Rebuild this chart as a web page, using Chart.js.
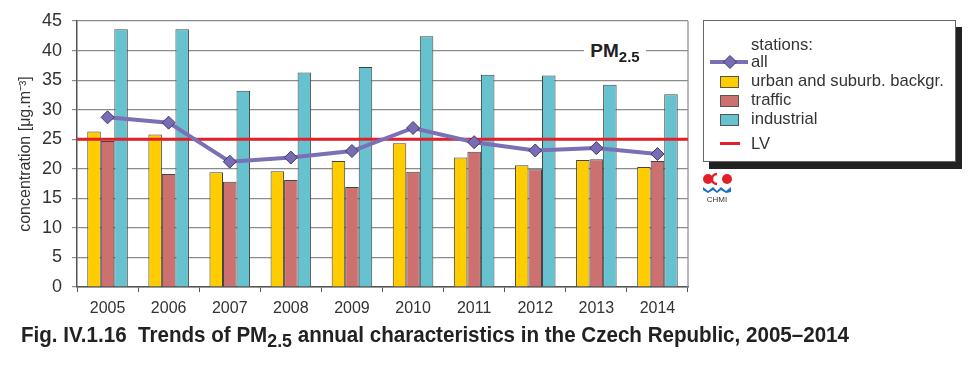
<!DOCTYPE html>
<html><head><meta charset="utf-8">
<script src="https://cdn.jsdelivr.net/npm/chart.js@4"></script>
<style>
html,body{margin:0;padding:0;background:#fff;}
#wrap{position:relative;width:976px;height:365px;overflow:hidden;font-family:"Liberation Sans",Arial,sans-serif;color:#333;}
#c{position:absolute;left:0;top:0;}
#pm{position:absolute;left:584px;top:39px;width:62px;height:24px;background:#fff;font-weight:bold;font-size:19px;line-height:24px;color:#222;text-align:center;}
#pm span{font-size:15px;position:relative;top:5px;}
#legend{position:absolute;left:703px;top:20px;width:251px;height:140px;border:1px solid #666;background:#fff;box-shadow:6px 7px 0 0 #222;}
.lt{position:absolute;left:751px;height:20px;line-height:20px;font-size:16.6px;color:#333;white-space:nowrap;}
.sw{position:absolute;left:720px;width:17px;height:10px;border:1px solid #555;}
#caption{position:absolute;left:21px;top:324px;font-family:"Liberation Sans Narrow","Liberation Sans",Arial,sans-serif;font-weight:bold;font-size:22px;line-height:22px;color:#222;white-space:nowrap;transform-origin:0 0;}
#caption span{font-size:19px;position:relative;top:5px;}
#logo{position:absolute;left:700px;top:170px;}
</style></head><body>
<div id="wrap">
<canvas id="c" width="976" height="365"></canvas>
<div id="pm">PM<span>2.5</span></div>
<div id="legend"></div>
<div class="lt" style="top:34.5px">stations:</div>
<svg style="position:absolute;left:708px;top:54px" width="42" height="16">
  <line x1="2" y1="8" x2="40" y2="8" stroke="#7a70b5" stroke-width="4"/>
  <polygon points="22,1.5 28.5,8 22,14.5 15.5,8" fill="#7a6cb4" stroke="#3d3a6a" stroke-width="1"/>
</svg>
<div class="lt" style="top:51.5px">all</div>
<div class="sw" style="top:76px;background:#FFCC00"></div>
<div class="lt" style="top:70.5px">urban and suburb. backgr.</div>
<div class="sw" style="top:95px;background:#CC7070"></div>
<div class="lt" style="top:89.5px">traffic</div>
<div class="sw" style="top:114px;background:#66C2CE"></div>
<div class="lt" style="top:109px">industrial</div>
<div style="position:absolute;left:720px;top:142px;width:20px;height:3px;background:#E3202A"></div>
<div class="lt" style="top:133.5px">LV</div>
<svg id="logo" width="36" height="36">
  <circle cx="8" cy="9" r="5" fill="#E3202A"/>
  <path d="M17,4 A5,5 0 0,0 17,14" fill="none" stroke="#E3202A" stroke-width="2.5"/>
  <circle cx="27" cy="9" r="5" fill="#E3202A"/>
  <path d="M3,17 L8,21 L13,17 L17,21 L21,17 L26,21 L31,17 L31,22 L26,23 L21,20 L17,23 L13,20 L8,23 L3,20 Z" fill="#1a6fbf"/>
  <text x="17" y="32" font-size="8" text-anchor="middle" fill="#333" font-family="Liberation Sans, Arial">CHMI</text>
</svg>
<div id="caption">Fig. IV.1.16&nbsp; Trends of PM<span>2.5</span> annual characteristics in the Czech Republic, 2005–2014</div>
</div>
<script>
const years = ['2005','2006','2007','2008','2009','2010','2011','2012','2013','2014'];
const urban = [26.3,25.8,19.4,19.6,21.3,24.3,21.9,20.6,21.5,20.3];
const traffic = [24.7,19.1,17.8,18.1,16.9,19.5,22.9,19.9,21.6,21.3];
const industrial = [43.6,43.6,33.2,36.3,37.2,42.4,35.9,35.8,34.2,32.6];
const allStations = [28.7,27.8,21.2,21.9,23.0,26.9,24.5,23.1,23.5,22.5];
const LV = 25;
const yMin = 0, yMax = 45, yStep = 5;

const cap = document.getElementById('caption');
const cw = cap.getBoundingClientRect().width;
cap.style.transform = 'scaleX(' + (828 / cw) + ')';

Chart.defaults.font.family = '"Liberation Sans", Arial, sans-serif';

const frameAndLV = {
  id: 'frameAndLV',
  beforeDatasetsDraw(chart) {
    const {ctx, chartArea: a} = chart;
    ctx.save();
    ctx.strokeStyle = '#8c8c8c';
    ctx.lineWidth = 1.2;
    ctx.beginPath();
    ctx.moveTo(a.right, a.top);
    ctx.lineTo(a.right, a.bottom);
    ctx.stroke();
    ctx.restore();
  },
  beforeDatasetDraw(chart, args) {
    if (args.meta.type !== 'line') return;
    const {ctx, chartArea: a, scales} = chart;
    const y = scales.y.getPixelForValue(LV);
    ctx.save();
    ctx.strokeStyle = '#E3202A';
    ctx.lineWidth = 3;
    ctx.beginPath();
    ctx.moveTo(a.left, y);
    ctx.lineTo(a.right, y);
    ctx.stroke();
    ctx.restore();
  }
};

const barCommon = {type:'bar', borderColor:'#444', borderWidth:1, categoryPercentage:0.664, barPercentage:1, order:3};

new Chart(document.getElementById('c'), {
  data: {
    labels: years,
    datasets: [
      {...barCommon, label:'urban and suburb. backgr.', data:urban, backgroundColor:'#FFCC00'},
      {...barCommon, label:'traffic', data:traffic, backgroundColor:'#CC7070'},
      {...barCommon, label:'industrial', data:industrial, backgroundColor:'#66C2CE'},
      {type:'line', label:'all', data:allStations, borderColor:'#7a70b5', borderWidth:4, pointStyle:'rectRot', pointRadius:6.5, pointBackgroundColor:'#7a6cb4', pointBorderColor:'#3d3a6a', pointBorderWidth:1, tension:0, order:1}
    ]
  },
  options: {
    responsive:false, animation:false, devicePixelRatio:1,
    layout:{padding:{top:21, right:288, bottom:38, left:0}},
    plugins:{legend:{display:false}, tooltip:{enabled:false}},
    scales:{
      x:{type:'category', offset:true,
        grid:{offset:true, drawOnChartArea:false, drawTicks:true, tickLength:5, color:'#555', lineWidth:1},
        border:{display:true, color:'#555', width:1.5},
        ticks:{color:'#333', font:{size:16}, padding:7, maxRotation:0},
        afterFit(s){ s.height = 40; }
      },
      y:{min:yMin, max:yMax,
        ticks:{stepSize:yStep, color:'#333', font:{size:18}, padding:10},
        grid:{color:'#8c8c8c', lineWidth:1.2, tickLength:5, drawTicks:true},
        border:{display:true, color:'#555', width:1.5},
        title:{display:true, text:'concentration [μg.m⁻³]', color:'#333', font:{size:16}, padding:{top:16, bottom:0}},
        afterFit(s){ s.width = 77; }
      }
    }
  },
  plugins:[frameAndLV]
});
</script>
</body></html>
